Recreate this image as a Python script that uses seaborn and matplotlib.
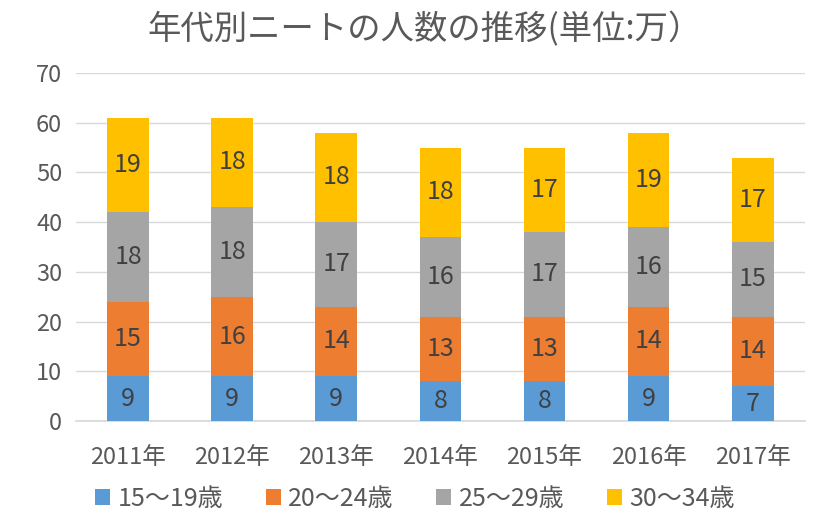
import matplotlib
matplotlib.use("Agg")
import matplotlib.pyplot as plt
import seaborn as sns
import numpy as np
import pandas as pd
from matplotlib.patches import Patch

years = ["2011年", "2012年", "2013年", "2014年", "2015年", "2016年", "2017年"]
series_names = ["15〜19歳", "20〜24歳", "25〜29歳", "30〜34歳"]
s15_19 = [9, 9, 9, 8, 8, 9, 7]
s20_24 = [15, 16, 14, 13, 13, 14, 14]
s25_29 = [18, 18, 17, 16, 17, 16, 15]
s30_34 = [19, 18, 18, 18, 17, 19, 17]
colors = ["#5B9BD5", "#ED7D31", "#A5A5A5", "#FFC000"]

sns.set_theme(style="white")
plt.rcParams['font.family'] = ['Noto Sans CJK JP', 'DejaVu Sans']

fig = plt.figure(figsize=(8.3, 5.32), dpi=100)
ax = fig.add_axes([0.0916, 0.2086, 0.878, 0.6542])

values = [s15_19, s20_24, s25_29, s30_34]
bottom = np.zeros(len(years))
for name, vals, col in zip(series_names, values, colors):
    df = pd.DataFrame({"year": years, "value": vals})
    sns.barplot(data=df, x="year", y="value", color=col, width=0.4,
                bottom=bottom, ax=ax, saturation=1, linewidth=0, zorder=3)
    for i, v in enumerate(vals):
        ax.text(i, bottom[i] + v / 2, str(v), ha="center", va="center",
                fontsize=18, color="#404040", zorder=4)
    bottom = bottom + np.array(vals)

ax.set_ylim(0, 70)
ax.set_yticks(range(0, 71, 10))
ax.set_xlim(-0.5, len(years) - 0.5)
ax.yaxis.grid(True, color="#D9D9D9", linewidth=1, zorder=0)
ax.set_axisbelow(True)
for sp in ax.spines.values():
    sp.set_visible(False)
ax.spines["bottom"].set_visible(True)
ax.spines["bottom"].set_color("#D9D9D9")
ax.set_xlabel("")
ax.set_ylabel("")
ax.tick_params(axis="both", length=0, labelsize=17, labelcolor="#595959")
ax.tick_params(axis="x", pad=18)
ax.tick_params(axis="y", pad=10)

fig.suptitle("年代別ニートの人数の推移(単位:万）", x=0.512, y=0.978, fontsize=24, color="#595959")

handles = [Patch(facecolor=c, edgecolor="none") for c in colors]
fig.legend(handles, series_names, loc="center", bbox_to_anchor=(0.5, 0.062), ncol=4,
           frameon=False, fontsize=18, labelcolor="#595959", handlelength=0.6,
           handleheight=0.6, handletextpad=0.3, columnspacing=1.7)

fig.savefig("out.png", dpi=100)
